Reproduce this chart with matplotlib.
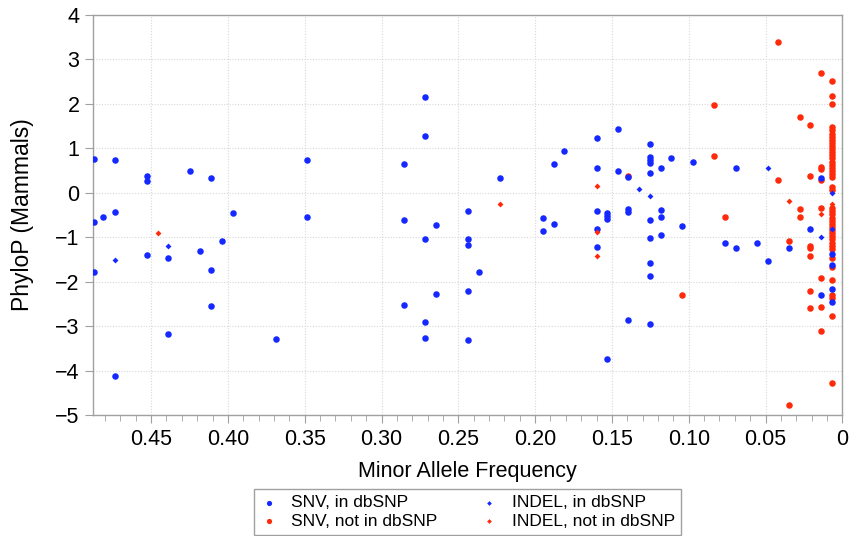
import matplotlib
matplotlib.use("Agg")
import matplotlib.pyplot as plt
from matplotlib.ticker import MultipleLocator

plt.rcParams["font.family"] = ["Liberation Sans", "DejaVu Sans"]

# SNV, in dbSNP
snv_db_x = [0.487, 0.487, 0.487, 0.481, 0.4735, 0.4735, 0.4735, 0.4527, 0.4527, 0.4527,
            0.4388, 0.4388, 0.4247, 0.418, 0.411, 0.411, 0.411, 0.4038, 0.3969, 0.369,
            0.3483, 0.3483, 0.2854, 0.2854, 0.2854, 0.2715, 0.2715, 0.2715, 0.2715, 0.2715,
            0.2645, 0.2645, 0.2437, 0.2437, 0.2437, 0.2437, 0.2437, 0.2367, 0.2229, 0.1949,
            0.1949, 0.1879, 0.1879, 0.1812, 0.1599, 0.1599, 0.1599, 0.1599, 0.1599, 0.1532,
            0.1532, 0.1532, 0.1532, 0.1462, 0.1462, 0.1393, 0.1393, 0.1393, 0.1393, 0.1252,
            0.1252, 0.1252, 0.1252, 0.1252, 0.1252, 0.1252, 0.1252, 0.1252, 0.1252, 0.1182,
            0.1182, 0.1182, 0.1182, 0.1113, 0.1044, 0.0974, 0.0766, 0.0694, 0.0694, 0.0555,
            0.0484, 0.0347, 0.0208, 0.0139, 0.0139, 0.0069, 0.0069, 0.0069, 0.0069]
snv_db_y = [0.76, -0.66, -1.79, -0.55, 0.73, -0.43, -4.13, 0.38, 0.26, -1.41,
            -1.46, -3.18, 0.49, -1.30, 0.33, -1.74, -2.55, -1.09, -0.46, -3.28,
            0.73, -0.55, 0.645, -0.61, -2.52, 2.16, 1.27, -1.03, -2.91, -3.27,
            -0.72, -2.27, -0.42, -1.03, -1.18, -2.20, -3.30, -1.79, 0.33, -0.57,
            -0.87, 0.645, -0.70, 0.93, 1.22, 0.555, -0.42, -0.82, -1.22, -0.46,
            -0.53, -0.60, -3.73, 1.42, 0.49, 0.345, -0.37, -0.43, -2.86, 1.10,
            0.81, 0.73, 0.66, 0.44, -0.61, -1.02, -1.59, -1.87, -2.94, 0.555,
            -0.39, -0.54, -0.96, 0.78, -0.755, 0.70, -1.14, 0.555, -1.25, -1.14,
            -1.54, -1.24, -0.82, 0.32, -2.30, -1.38, -1.62, -2.17, -2.46]

# SNV, not in dbSNP
snv_new_x = [0.1393, 0.1044, 0.0835, 0.0835, 0.0766, 0.0417, 0.0417, 0.0347, 0.0347, 0.0277,
             0.0277, 0.0277, 0.0208, 0.0208, 0.0208, 0.0208, 0.0208, 0.0208, 0.0208, 0.0139,
             0.0139, 0.0139, 0.0139, 0.0139, 0.0139, 0.0139, 0.0139]
snv_new_y = [0.38, -2.31, 1.96, 0.82, -0.54, 3.39, 0.28, -1.085, -4.76, 1.71,
             -0.37, -0.55, 1.51, 0.375, -1.19, -1.25, -1.42, -2.21, -2.60, 2.70,
             0.585, 0.525, 0.285, -0.34, -1.91, -2.57, -3.11]

# SNV, not in dbSNP, the rarest column
rare_x = [0.0069, 0.0069, 0.0069, 0.0069, 0.0069, 0.0069, 0.0069, 0.0069, 0.0069, 0.0069,
          0.0069, 0.0069, 0.0069, 0.0069, 0.0069, 0.0069, 0.0069, 0.0069, 0.0069, 0.0069,
          0.0069, 0.0069, 0.0069, 0.0069, 0.0069, 0.0069, 0.0069, 0.0069, 0.0069, 0.0069,
          0.0069, 0.0069, 0.0069, 0.0069, 0.0069, 0.0069, 0.0069, 0.0069, 0.0069, 0.0069,
          0.0069, 0.0069, 0.0069]
rare_y = [2.51, 2.18, 1.99, 1.47, 1.40, 1.33, 1.26, 1.19, 1.12, 1.05,
          0.98, 0.91, 0.84, 0.77, 0.70, 0.63, 0.56, 0.49, 0.42, 0.36,
          0.13, 0.06, -0.35, -0.42, -0.49, -0.56, -0.63, -0.70, -0.77, -0.84,
          -0.91, -0.98, -1.05, -1.12, -1.19, -1.26, -1.47, -1.67, -1.96, -2.30,
          -2.37, -2.78, -4.28]

# INDEL, in dbSNP
indel_db_x = [0.4735, 0.4388, 0.1324, 0.1252, 0.0484, 0.0139, 0.0069, 0.0069]
indel_db_y = [-1.51, -1.20, 0.08, -0.07, 0.555, -0.99, -0.01, -0.81]

# INDEL, not in dbSNP
indel_new_x = [0.4457, 0.2229, 0.1599, 0.1599, 0.1599, 0.0347, 0.0139, 0.0069]
indel_new_y = [-0.91, -0.26, 0.15, -0.88, -1.43, -0.19, -0.49, -0.25]

blue = "#1428ff"
red = "#ff2a0a"
gray = "#a0a0a0"

fig = plt.figure(figsize=(8.5, 5.36), dpi=100)
ax = fig.add_axes([0.1098, 0.2254, 0.8812, 0.7472])

ax.scatter(snv_new_x + rare_x, snv_new_y + rare_y, s=22, color=red, linewidths=0, zorder=3,
           label="SNV, not in dbSNP")
ax.scatter(snv_db_x, snv_db_y, s=22, color=blue, linewidths=0, zorder=4, label="SNV, in dbSNP")
ax.scatter(indel_db_x, indel_db_y, s=9, marker="D", color=blue, linewidths=0, zorder=5,
           label="INDEL, in dbSNP")
ax.scatter(indel_new_x, indel_new_y, s=9, marker="D", color=red, linewidths=0, zorder=5,
           label="INDEL, not in dbSNP")

ax.set_xlim(0.4876, 0)
ax.set_ylim(-5, 4)
ax.xaxis.set_minor_locator(MultipleLocator(0.01))
ax.yaxis.set_major_locator(MultipleLocator(1))
ax.set_xticks([0.45, 0.40, 0.35, 0.30, 0.25, 0.20, 0.15, 0.10, 0.05, 0])
ax.set_xticklabels(["0.45", "0.40", "0.35", "0.30", "0.25", "0.20", "0.15", "0.10", "0.05", "0"])

ax.grid(True, which="major", linestyle=(0, (1, 1.5)), color="#d8d8d8", linewidth=0.8)
ax.set_axisbelow(True)
for sp in ax.spines.values():
    sp.set_color(gray)
    sp.set_linewidth(1.0)
ax.tick_params(axis="both", which="major", length=6, color=gray, labelsize=15.5, pad=4)
ax.tick_params(axis="x", which="minor", length=4, color=gray)

ax.set_xlabel("Minor Allele Frequency", fontsize=15.5, labelpad=8)
ax.set_ylabel("PhyloP (Mammals)", fontsize=16.5, labelpad=15)

h, l = ax.get_legend_handles_labels()
order = [1, 0, 2, 3]
fig.legend([h[i] for i in order], [l[i] for i in order], ncol=2, loc="upper center",
           bbox_to_anchor=(0.55, 0.088), borderaxespad=0, fontsize=12.5, frameon=True,
           fancybox=False, edgecolor="#888888", handlelength=1.0, handletextpad=0.8,
           columnspacing=2.5, borderpad=0.35, labelspacing=0.2, markerscale=0.8)

fig.savefig("out.png", dpi=100)
